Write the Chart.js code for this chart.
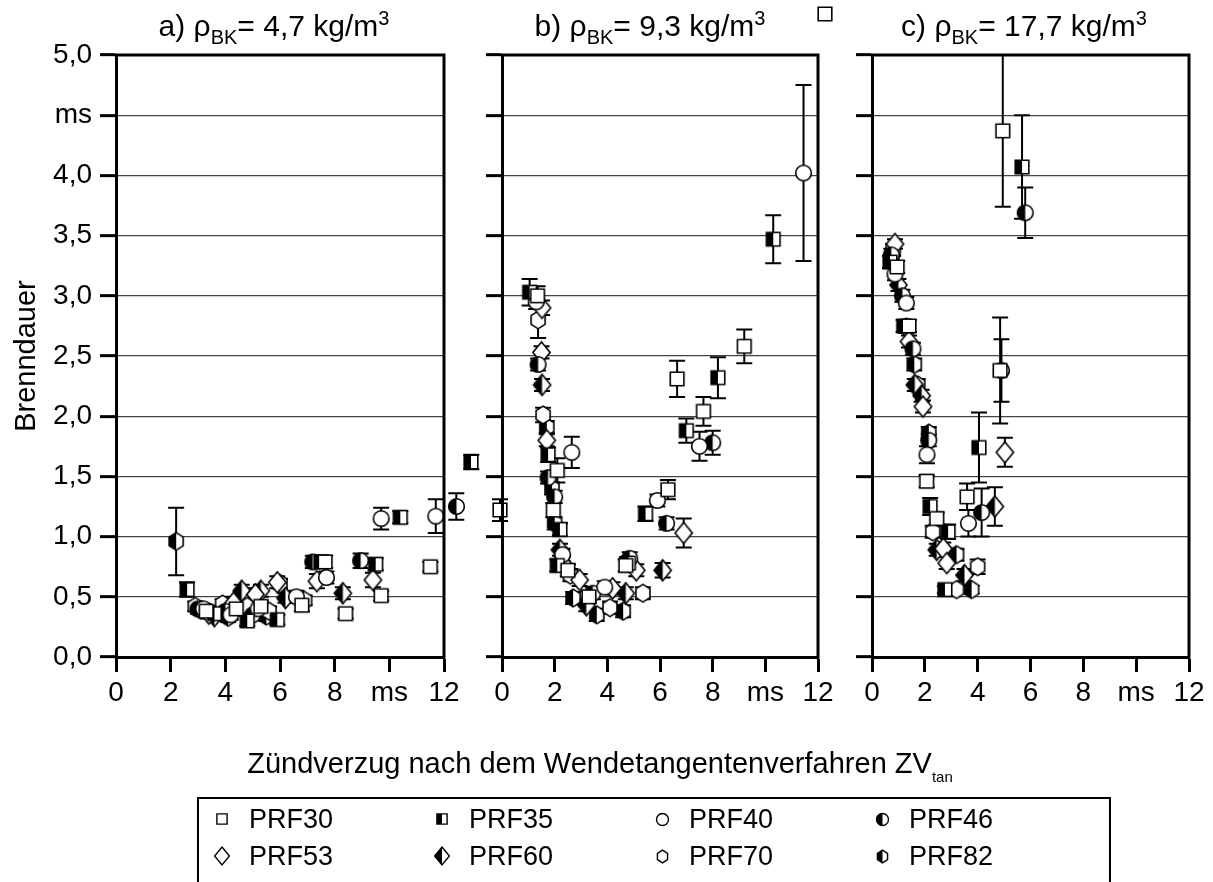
<!DOCTYPE html>
<html><head><meta charset="utf-8">
<script src="https://cdn.jsdelivr.net/npm/chart.js@4.4.1/dist/chart.umd.min.js"></script>
<style>
html,body{margin:0;padding:0;background:#fff;width:1213px;height:882px;overflow:hidden;font-family:"Liberation Sans",Arial,sans-serif;color:#000;}
canvas.plot{position:absolute;left:0;top:0;}
.ttl{position:absolute;top:9px;font-size:30px;white-space:nowrap;transform:translateX(-50%);line-height:34px;}
.ttl .sb{font-size:20px;position:relative;top:8px;}
.ttl .sp{font-size:20px;position:relative;top:-11px;}
#xt{position:absolute;left:600px;top:746px;transform:translateX(-50%);font-size:29px;white-space:nowrap;line-height:34px;}
#xt .sb{font-size:15px;position:relative;top:9px;}
#leg{position:absolute;left:197px;top:797px;width:910px;height:120px;border:2px solid #000;}
.li{position:absolute;font-size:27px;line-height:30px;white-space:nowrap;}
.li canvas{position:absolute;}
</style></head>
<body>
<canvas class="plot" id="ca" width="1213" height="882"></canvas>
<canvas class="plot" id="cb" width="1213" height="882"></canvas>
<canvas class="plot" id="cc" width="1213" height="882"></canvas>
<div class="ttl" style="left:274px">a) ρ<span class="sb">BK</span>= 4,7 kg/m<span class="sp">3</span></div>
<div class="ttl" style="left:650px">b) ρ<span class="sb">BK</span>= 9,3 kg/m<span class="sp">3</span></div>
<div class="ttl" style="left:1024px">c) ρ<span class="sb">BK</span>= 17,7 kg/m<span class="sp">3</span></div>
<div id="xt">Zündverzug nach dem Wendetangentenverfahren ZV<span class="sb">tan</span></div>
<div id="leg"></div>
<script>
// ---- series / categories ----
const seriesNames = ['PRF30','PRF35','PRF40','PRF46','PRF53','PRF60','PRF70','PRF82'];
const markerShapes = ['square','square','circle','circle','diamond','diamond','hexagon','hexagon'];
const markerHalf   = [false,true,false,true,false,true,false,true];
const xTickValues = [0,2,4,6,8,10,12];
const xTickLabels = ['0','2','4','6','8','ms','12'];
const yTickValues = [0,0.5,1,1.5,2,2.5,3,3.5,4,4.5,5];
const yTickLabels = ['0,0','0,5','1,0','1,5','2,0','2,5','3,0','3,5','4,0','ms','5,0'];

// ---- panel a) rho_BK = 4,7 kg/m3 ----
const a30x=[3.3,4.4,5.3,6.8,7.65,8.4,9.7,11.5,14.05], a30y=[0.38,0.40,0.42,0.43,0.79,0.36,0.51,0.75,1.22], a30e=[0.04,0.04,0.05,0.05,0.05,0.04,0.04,0.04,0.09];
const a35x=[2.6,3.6,4.8,5.9,7.5,9.5,10.4,13.0], a35y=[0.56,0.36,0.30,0.31,0.79,0.77,1.16,1.62], a35e=[0.06,0.04,0.04,0.04,0.05,0.05,0.05,0.06];
const a40x=[3.2,4.2,5.2,6.6,7.7,9.7,11.7], a40y=[0.40,0.35,0.40,0.50,0.66,1.15,1.17], a40e=[0.04,0.04,0.05,0.05,0.05,0.09,0.14];
const a46x=[3.0,4.0,5.0,7.2,8.95,12.45], a46y=[0.40,0.38,0.35,0.79,0.80,1.25], a46e=[0.04,0.04,0.04,0.05,0.06,0.11];
const a53x=[3.4,4.3,5.1,5.9,7.35,9.4], a53y=[0.36,0.45,0.52,0.62,0.63,0.64], a53e=[0.04,0.05,0.05,0.05,0.06,0.06];
const a60x=[3.6,4.6,5.3,6.2,8.3], a60y=[0.34,0.55,0.55,0.49,0.53], a60e=[0.04,0.05,0.05,0.04,0.05];
const a70x=[2.9,3.9,4.8,5.6,6.0,6.9], a70y=[0.42,0.44,0.42,0.38,0.61,0.47], a70e=[0.04,0.04,0.05,0.04,0.04,0.04];
const a82x=[2.2,3.1,4.1,4.6,5.5], a82y=[0.96,0.39,0.33,0.48,0.34], a82e=[0.28,0.04,0.04,0.04,0.04];

// ---- panel b) rho_BK = 9,3 kg/m3 ----
const b30x=[1.35,2.1,1.95,2.5,3.3,4.7,6.3,6.65,7.65,9.2,12.27], b30y=[3.0,1.55,1.22,0.72,0.50,0.76,1.39,2.31,2.04,2.58,5.34], b30e=[0.08,0.1,0.06,0.05,0.05,0.05,0.08,0.15,0.12,0.14,0];
const b35x=[1.05,1.75,2.2,2.1,4.8,5.45,7.0,8.2,10.3], b35y=[3.03,1.68,1.06,0.76,0.78,1.19,1.88,2.32,3.47], b35e=[0.11,0.06,0.05,0.05,0.05,0.06,0.1,0.17,0.2];
const b40x=[1.3,2.65,2.3,3.9,5.9,7.5,11.45], b40y=[2.95,1.70,0.85,0.58,1.30,1.75,4.02], b40e=[0.06,0.13,0.05,0.05,0.05,0.12,0.73];
const b46x=[1.37,1.75,2.0,3.45,4.85,6.25,8.0], b46y=[2.43,1.49,1.33,0.53,0.82,1.11,1.78], b46e=[0.05,0.05,0.05,0.05,0.05,0.05,0.1];
const b53x=[1.52,1.5,1.7,2.95,4.2,5.1,6.9], b53y=[2.9,2.53,1.80,0.64,0.57,0.72,1.03], b53e=[0.06,0.05,0.05,0.05,0.05,0.05,0.12];
const b60x=[1.52,2.2,2.3,3.2,4.7,6.1], b60y=[2.26,0.89,0.78,0.43,0.53,0.72], b60e=[0.05,0.05,0.05,0.05,0.05,0.06];
const b70x=[1.37,1.56,2.6,4.1,5.35,4.75], b70y=[2.80,2.01,0.68,0.41,0.53,0.78], b70e=[0.15,0.06,0.05,0.05,0.05,0.05];
const b82x=[1.7,1.9,2.0,2.7,3.6,4.6], b82y=[1.91,1.40,1.11,0.49,0.35,0.38], b82e=[0.05,0.05,0.05,0.05,0.05,0.05];

// ---- panel c) rho_BK = 17,7 kg/m3 ----
const c30x=[0.95,1.4,2.07,2.45,3.6,4.85,4.95], c30y=[3.24,2.75,1.46,1.15,1.33,2.38,4.37], c30e=[0.05,0.05,0.05,0.05,0.11,0.44,0.63];
const c35x=[0.68,1.2,2.2,2.88,2.76,4.05,5.68], c35y=[3.28,2.75,1.25,1.04,0.56,1.74,4.07], c35e=[0.05,0.05,0.07,0.06,0.03,0.29,0.43];
const c40x=[0.87,1.3,2.08,3.65,4.9], c40y=[3.18,2.94,1.68,1.11,2.38], c40e=[0.05,0.05,0.07,0.11,0.26];
const c46x=[0.73,1.15,1.55,2.15,4.15,5.8], c46y=[3.34,3.0,2.56,1.80,1.20,3.69], c46e=[0.05,0.05,0.05,0.05,0.2,0.21];
const c53x=[0.87,1.4,1.93,2.7,2.83,5.03], c53y=[3.43,2.62,2.08,0.90,0.78,1.70], c53e=[0.04,0.05,0.05,0.05,0.05,0.12];
const c60x=[1.0,1.62,1.88,2.45,3.5,4.65], c60y=[3.09,2.26,2.17,0.89,0.68,1.25], c60e=[0.05,0.05,0.05,0.05,0.05,0.16];
const c70x=[0.8,1.3,1.73,2.3,4.0,3.2], c70y=[3.38,2.74,2.26,1.04,0.75,0.56], c70e=[0.05,0.05,0.05,0.05,0.06,0.03];
const c82x=[0.75,1.6,2.15,3.2,3.77], c82y=[3.30,2.43,1.86,0.85,0.56], c82e=[0.05,0.05,0.05,0.05,0.03];

const panelA=[[a30x,a30y,a30e],[a35x,a35y,a35e],[a40x,a40y,a40e],[a46x,a46y,a46e],[a53x,a53y,a53e],[a60x,a60y,a60e],[a70x,a70y,a70e],[a82x,a82y,a82e]];
const panelB=[[b30x,b30y,b30e],[b35x,b35y,b35e],[b40x,b40y,b40e],[b46x,b46y,b46e],[b53x,b53y,b53e],[b60x,b60y,b60e],[b70x,b70y,b70e],[b82x,b82y,b82e]];
const panelC=[[c30x,c30y,c30e],[c35x,c35y,c35e],[c40x,c40y,c40e],[c46x,c46y,c46e],[c53x,c53y,c53e],[c60x,c60y,c60e],[c70x,c70y,c70e],[c82x,c82y,c82e]];

// ---- marker images ----
function makeMarker(shape, half, s, lw){
  const pad=2, w=Math.ceil(s+pad*2);
  const cv=document.createElement('canvas'); cv.width=w; cv.height=w;
  const g=cv.getContext('2d'); const c=w/2, r=s/2;
  function path(){
    g.beginPath();
    if(shape==='square'){ const h=r*0.85; g.rect(c-h,c-h,2*h,2*h); }
    else if(shape==='circle'){ g.arc(c,c,r*0.92,0,Math.PI*2); }
    else if(shape==='diamond'){ g.moveTo(c,c-r); g.lineTo(c+r*0.82,c); g.lineTo(c,c+r); g.lineTo(c-r*0.82,c); g.closePath(); }
    else { for(let k=0;k<6;k++){ const a=-Math.PI/2+k*Math.PI/3; const px=c+r*0.9*Math.cos(a), py=c+r*0.98*Math.sin(a); k?g.lineTo(px,py):g.moveTo(px,py);} g.closePath(); }
  }
  path(); g.fillStyle='#fff'; g.fill();
  if(half){ g.save(); path(); g.clip(); g.fillStyle='#000'; g.fillRect(0,0,c,w); g.restore(); }
  path(); g.lineWidth=lw; g.strokeStyle='#000'; g.stroke();
  return cv;
}
const plotSize={square:16,circle:17,diamond:21,hexagon:18};
const legSize={square:12,circle:13,diamond:18,hexagon:13};

// ---- plugins ----
const errPlugin={id:'errbars',beforeDatasetsDraw(chart){
  const ctx=chart.ctx, xs=chart.scales.x, ys=chart.scales.y;
  ctx.save(); ctx.strokeStyle='#000'; ctx.lineWidth=2;
  chart.data.datasets.forEach(ds=>{ (ds.errs||[]).forEach((e,i)=>{
    if(!e) return; const p=ds.data[i];
    const px=xs.getPixelForValue(p.x), t=ys.getPixelForValue(Math.min(5,p.y+e)), b=ys.getPixelForValue(p.y-e);
    ctx.beginPath(); ctx.moveTo(px,t); ctx.lineTo(px,b);
    ctx.moveTo(px-8,t); ctx.lineTo(px+8,t); ctx.moveTo(px-8,b); ctx.lineTo(px+8,b); ctx.stroke();
  });});
  ctx.restore();
},
// Chart.js skips points lying outside the chart area; the reference shows them, so draw those
afterDatasetsDraw(chart){
  const a=chart.chartArea, ctx=chart.ctx;
  chart.data.datasets.forEach((ds,di)=>{
    const meta=chart.getDatasetMeta(di);
    meta.data.forEach(el=>{
      if(el.x<a.left-1||el.x>a.right+1||el.y<a.top-1||el.y>a.bottom+1){
        const img=ds.pointStyle; ctx.drawImage(img,Math.round(el.x-img.width/2),Math.round(el.y-img.height/2));
      }
    });
  });
}};
const framePlugin={id:'frame',afterDraw(chart){
  const a=chart.chartArea, ctx=chart.ctx; ctx.save(); ctx.strokeStyle='#000'; ctx.lineWidth=3;
  ctx.beginPath(); ctx.moveTo(a.left-1.5,a.top); ctx.lineTo(a.right,a.top); ctx.lineTo(a.right,a.bottom+1.5); ctx.stroke(); ctx.restore();
}};

const FONT='"Liberation Sans", Arial, sans-serif';
function buildChart(id, panel, padL, padR, yW, showY){
  const datasets=panel.map((s,k)=>({
    label:seriesNames[k],
    data:s[0].map((x,i)=>({x:x,y:s[1][i]})),
    errs:s[2],
    pointStyle:makeMarker(markerShapes[k],markerHalf[k],plotSize[markerShapes[k]],1.6),
    pointRadius:8, showLine:false, clip:false
  }));
  return new Chart(document.getElementById(id),{
    type:'scatter',
    data:{datasets},
    options:{
      responsive:false, animation:false, devicePixelRatio:1,
      layout:{padding:{left:padL,right:padR,top:55,bottom:165}},
      plugins:{legend:{display:false},tooltip:{enabled:false}},
      scales:{
        x:{type:'linear',min:0,max:12,
          afterBuildTicks:s=>{s.ticks=xTickValues.map(v=>({value:v}));},
          afterFit:s=>{s.height=60;},
          ticks:{color:'#000',font:{family:FONT,size:28},padding:4,maxRotation:0,autoSkip:false,
            callback:v=>xTickLabels[xTickValues.indexOf(v)]},
          grid:{drawOnChartArea:false,tickLength:15,tickWidth:3,tickColor:'#000'},
          border:{color:'#000',width:3}},
        y:{type:'linear',min:0,max:5,
          afterBuildTicks:s=>{s.ticks=yTickValues.map(v=>({value:v}));},
          afterFit:s=>{s.width=yW;},
          title:{display:showY,text:'Brenndauer',color:'#000',font:{family:FONT,size:29},padding:0},
          ticks:{display:showY,color:'#000',font:{family:FONT,size:28},padding:8,
            callback:v=>yTickLabels[yTickValues.indexOf(v)]},
          grid:{color:'#444',lineWidth:1.3,tickLength:16,tickWidth:3,tickColor:'#000'},
          border:{color:'#000',width:3}}
      }
    },
    plugins:[errPlugin,framePlugin]
  });
}
buildChart('ca',panelA,10,1213-444,106,true);
buildChart('cb',panelB,482,1213-818,20,false);
buildChart('cc',panelC,852,1213-1189,20,false);

// ---- legend ----
const legCols=[23,243,463,683], legRows=[5,42], legTextOff=27;
const leg=document.getElementById('leg');
seriesNames.forEach((n,k)=>{
  const col=k%4,row=Math.floor(k/4);
  const d=document.createElement('div'); d.className='li';
  d.style.left=legCols[col]+'px'; d.style.top=legRows[row]+'px';
  const m=makeMarker(markerShapes[k],markerHalf[k],legSize[markerShapes[k]],1.4);
  m.style.left=(-m.width/2)+'px'; m.style.top=(15-m.height/2)+'px';
  d.appendChild(m);
  const t=document.createElement('span'); t.textContent=n; t.style.position='relative'; t.style.left=legTextOff+'px';
  d.appendChild(t);
  leg.appendChild(d);
});
</script>
</body></html>
